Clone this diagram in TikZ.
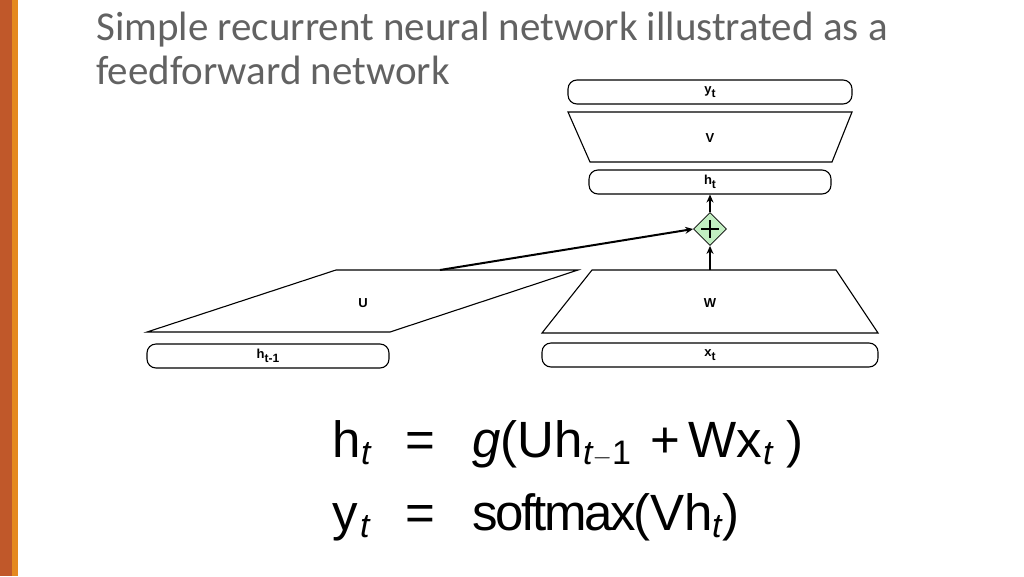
\documentclass[tikz,border=0pt]{standalone}
\usepackage{fontspec}
\setmainfont{Liberation Sans}
\newfontfamily\titlefont{Carlito}
\newfontfamily\eqfont{Liberation Sans}
\newfontfamily\eqtight{Liberation Sans}[LetterSpace=-5]
\usetikzlibrary{shapes.geometric,arrows.meta}
\definecolor{barA}{HTML}{C0582A}
\definecolor{barB}{HTML}{E5891F}
\definecolor{titlegrey}{HTML}{626262}
\definecolor{plusgreen}{HTML}{C2EEC2}
\newcommand{\lbl}[2]{{\fontsize{13}{13}\selectfont\bfseries #1}\raisebox{-0.6ex}{\fontsize{12}{12}\selectfont #2}}
\begin{document}
\begin{tikzpicture}[x=1pt,y=-1pt,
  layer/.style={draw, rounded corners=9pt, line width=1.1pt, minimum height=24pt, inner sep=0pt},
  wshape/.style={draw, line width=1.1pt, line join=miter},
  lab/.style={inner sep=0pt, font=\fontsize{13}{13}\selectfont\bfseries},
  arr/.style={line width=2pt, -{Stealth[length=8pt,width=7pt]}},
  plusnode/.style={diamond, draw, fill=plusgreen, line width=0.8pt, minimum width=33pt, minimum height=33pt, inner sep=0pt},
  eq/.style={inner sep=0pt, font=\eqfont\fontsize{51}{51}\selectfont, anchor=base west},
  eqs/.style={inner sep=0pt, font=\eqfont\fontsize{34}{34}\selectfont\itshape, anchor=base west},
  ttl/.style={anchor=base west, inner sep=0pt, text=titlegrey, font=\titlefont\fontsize{41}{41}\selectfont}
]
\useasboundingbox (0,0) rectangle (1024,576);
\fill[barA] (0,0) rectangle (12,576);
\fill[barB] (12,0) rectangle (18,576);

% title
\node[ttl] (title1) at (96,40) {Simple recurrent neural network illustrated as a};
\node[ttl] (title2) at (96,84) {feedforward network};

% output layer
\node[layer, minimum width=284pt] (yt) at (710,92) {};
\node[lab] (ytl) at (yt.center) {\lbl{y}{t}};
% V
\draw[wshape] (568,112) -- (852,112) -- (832,162) -- (590,162) -- cycle;
\node[lab] (V) at (710,138) {V};
% hidden
\node[layer, minimum width=242pt] (ht) at (710,182) {};
\node[lab] (htl) at (ht.center) {\lbl{h}{t}};
% plus
\node[plusnode] (plus) at (710,229) {};
\draw[line width=1.6pt] ([xshift=-9pt]plus.center) -- ([xshift=9pt]plus.center);
\draw[line width=1.6pt] ([yshift=-9pt]plus.center) -- ([yshift=9pt]plus.center);
% W
\draw[wshape] (592,270) -- (836,270) -- (878,333) -- (542,333) -- cycle;
\node[lab] (W) at (710,303) {W};
\coordinate (wtop) at (710,270);
% U
\draw[wshape] (336,270) -- (578,270) -- (390,332) -- (147,332) -- cycle;
\node[lab] (U) at (363,303) {U};
\coordinate (utop) at (440,270);
% inputs
\node[layer, minimum width=336pt] (xt) at (710,355) {};
\node[lab] (xtl) at (xt.center) {\lbl{x}{t}};
\node[layer, minimum width=242pt] (hprev) at (268,356) {};
\node[lab] (hprevl) at (hprev.center) {\lbl{h}{t-1}};

% arrows
\draw[arr] (plus.north) -- (ht.south);
\draw[arr] (wtop) -- (plus.south);
\draw[arr] (utop) -- (plus.west);

% equation 1
\node[eq] (a1) at (332,457) {h};
\node[eqs] (a2) at (361,464) {t};
\node[eq] (a3) at (405,457) {=};
\node[eq] (a4) at (472,457) {\textit{g}(Uh};
\node[eqs] (a5) at (583,464) {t\upshape$-$1};
\node[eq] (a6) at (650,457) {+};
\node[eq] (a7) at (688,457) {Wx};
\node[eqs] (a8) at (763,464) {t};
\node[eq] (a9) at (786,457) {)};
% equation 2
\node[eq] (b1) at (332,530) {y};
\node[eqs] (b2) at (360,537) {t};
\node[eq] (b3) at (405,530) {=};
\node[eq] (b4) at (472,530) {\eqtight softmax};
\node[eq] (b5) at (633,530) {(Vh};
\node[eqs] (b6) at (712,537) {t};
\node[eq] (b7) at (722,530) {)};
\end{tikzpicture}
\end{document}
